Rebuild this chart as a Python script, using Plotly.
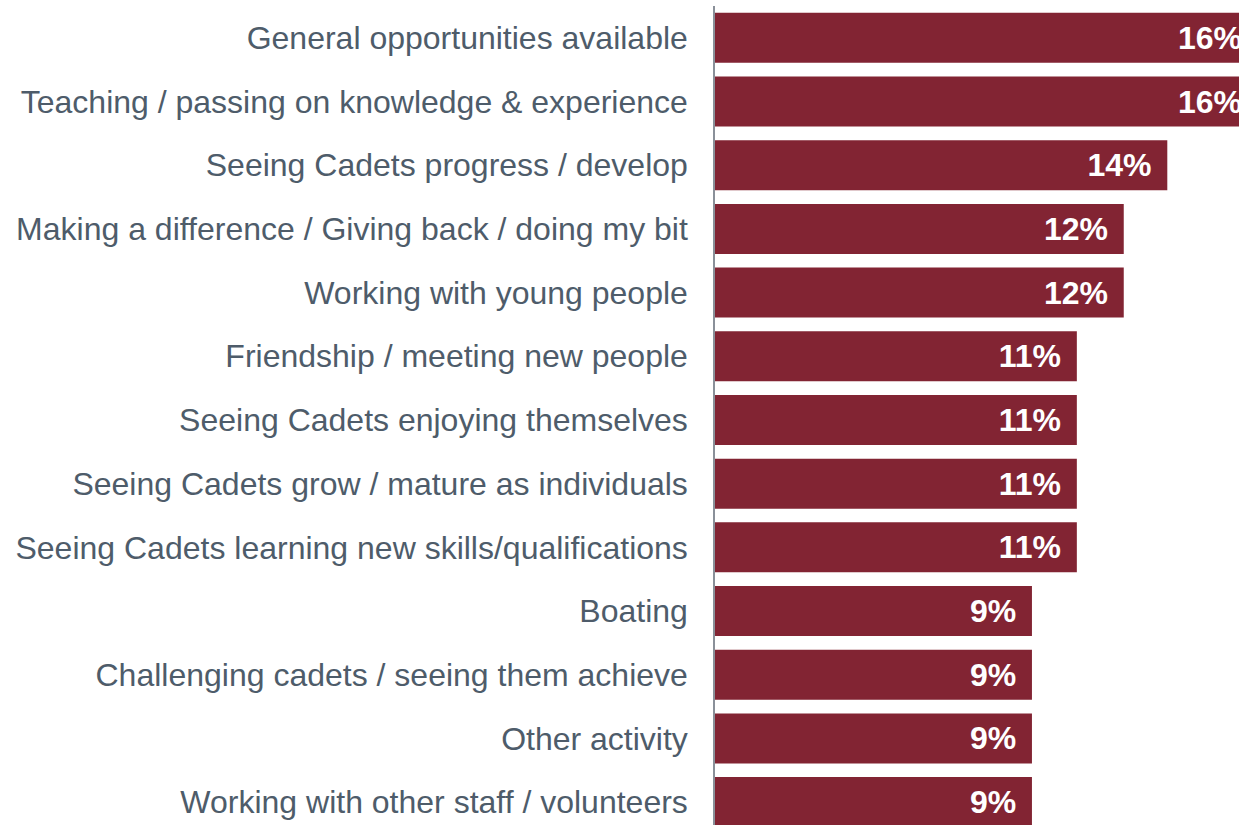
import plotly.graph_objects as go

categories = [
    "General opportunities available",
    "Teaching / passing on knowledge & experience",
    "Seeing Cadets progress / develop",
    "Making a difference / Giving back / doing my bit",
    "Working with young people",
    "Friendship / meeting new people",
    "Seeing Cadets enjoying themselves",
    "Seeing Cadets grow / mature as individuals",
    "Seeing Cadets learning new skills/qualifications",
    "Boating",
    "Challenging cadets / seeing them achieve",
    "Other activity",
    "Working with other staff / volunteers",
]
values = [16.2, 16.2, 13.5, 12.2, 12.2, 10.8, 10.8, 10.8, 10.8, 9.46, 9.46, 9.46, 9.46]
value_labels = ["16%", "16%", "14%", "12%", "12%", "11%", "11%", "11%", "11%",
                "9%", "9%", "9%", "9%"]

BAR_COLOUR = "#822433"
LABEL_COLOUR = "#4e5c6a"
FONT = "Liberation Sans, Arial, sans-serif"

fig = go.Figure(go.Bar(
    x=values,
    y=categories,
    orientation="h",
    marker=dict(color=BAR_COLOUR, line=dict(width=0)),
    text=[t + "\u2009\u2009" for t in value_labels],
    textposition="inside",
    insidetextanchor="end",
    textangle=0,
    textfont=dict(family=FONT, size=32, color="white", weight="bold"),
    hoverinfo="skip",
))

fig.update_layout(
    width=1239,
    height=825,
    margin=dict(l=715, r=0, t=6, b=0),
    plot_bgcolor="white",
    paper_bgcolor="white",
    bargap=0.215,
    showlegend=False,
    font=dict(family=FONT),
    xaxis=dict(range=[0, 15.64], visible=False, fixedrange=True),
    yaxis=dict(
        range=[12.36, -0.5],
        showline=True,
        linecolor="#8a9099",
        linewidth=1.5,
        showgrid=False,
        zeroline=False,
        ticks="",
        ticklabelstandoff=19,
        tickfont=dict(family=FONT, size=32, color=LABEL_COLOUR),
        fixedrange=True,
    ),
)

# page margin off so the figure sits flush in the window
fig.write_html(
    "out.html",
    config={"displayModeBar": False},
    post_script="document.body.style.margin='0';document.body.style.overflow='hidden';",
)
